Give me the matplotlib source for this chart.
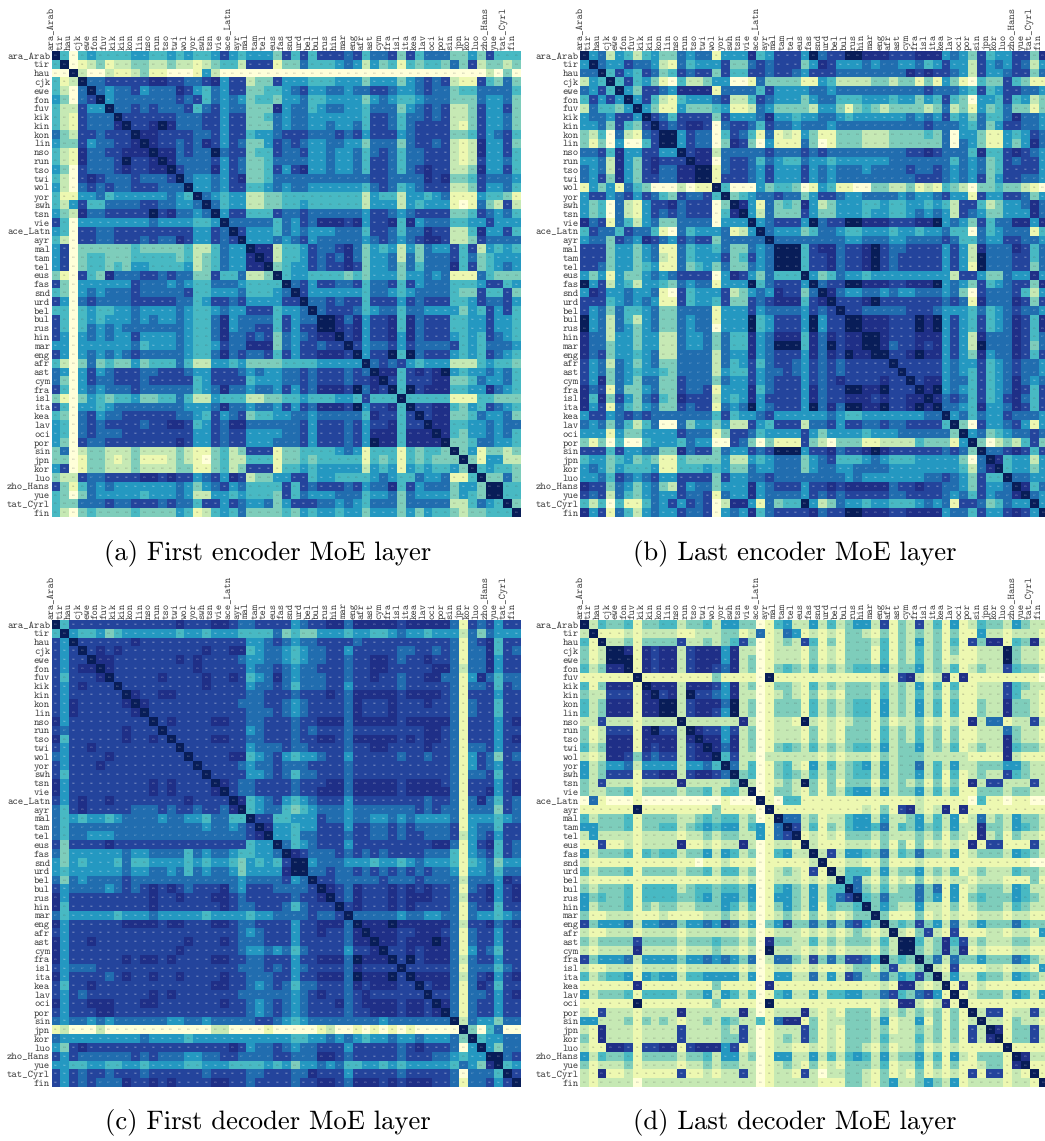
import matplotlib
matplotlib.use("Agg")
import matplotlib.pyplot as plt
import numpy as np

# languages, same order on both axes
languages = ["ara_Arab", "tir", "hau", "cjk", "ewe", "fon", "fuv", "kik", "kin", "kon",
             "lin", "nso", "run", "tso", "twi", "wol", "yor", "swh", "tsn", "vie",
             "ace_Latn", "ayr", "mal", "tam", "tel", "eus", "fas", "snd", "urd", "bel",
             "bul", "rus", "hin", "mar", "eng", "afr", "ast", "cym", "fra", "isl",
             "ita", "kea", "lav", "oci", "por", "sin", "jpn", "kor", "luo", "zho_Hans",
             "yue", "tat_Cyrl", "fin"]

# similarity, one digit per cell
first_encoder = [
    "9404544445 5445454457 5455537474 7776746673 7466633537 444",
    "4901231223 3223221234 4277713364 4456525341 4344363723 323",
    "0092002112 3110001520 0000000000 0000000000 0000000002 030",
    "4129667777 7887766785 7723375554 4455535553 5676721174 363",
    "4206965667 5666875465 7733445675 5665667765 5676634466 664",
    "5306795666 6666767465 6534435564 4555535654 4566633365 563",
    "4227559667 6766674675 6633385664 5665546663 5676722375 573",
    "4217666977 7777666775 7733465665 5555547764 6676722375 563",
    "4217666897 7898666775 7733365665 5655647764 6777721375 563",
    "6327767779 8877776675 7745567776 6676757775 6777733475 674",
    "5337566778 9877676875 7633576765 5665536663 6776721285 573",
    "4218667788 8988676696 7734476675 5655646764 6677721285 574",
    "4218666797 7898666675 7633466665 5655647764 6677721275 564",
    "5307666787 7889766685 7633475785 5655647764 6787722385 574",
    "4207876667 6667965565 7833466666 6666667766 6687833476 665",
    "5206767667 7766695565 7744565665 5555546764 5677722375 564",
    "4115564555 5556549654 5522334444 4444425442 5545611154 431",
    "4257446666 7766556964 5522334454 4444425552 5455510163 272",
    "5328667777 7978665695 7744476676 6666657765 6777733476 564",
    "7405555555 5655554459 6666646576 8887857784 8566644557 555",
    "5407766777 7777775576 9755546565 5566647764 6687722485 574",
    "4207766777 6766875576 7955565675 6666656765 6788722376 666",
    "5703333334 3333342246 5598824457 6678635452 5365574725 454",
    "5703443334 4444342346 5589824457 6768635562 6366674634 555",
    "5703443435 5444452346 5588934557 6778735563 6466684734 565",
    "3107438666 7767663374 4622394554 4443435553 5565611164 333",
    "7305555557 6665654466 6544449675 7766746674 7566644457 745",
    "4305656667 6666674455 5644456975 5555546654 5666643374 473",
    "7506766667 7777664577 6755557796 6767747775 7677744576 675",
    "4404544556 5555654456 5577745569 6777645664 6655553547 574",
    "7404545556 5655654468 5666647566 9986857784 8677744557 554",
    "7404656566 6666654468 5667747577 9987857784 8677744557 554",
    "7505656557 5555654468 6676736567 8897857785 8677754547 654",
    "5505555556 4555654457 6688836577 6779756675 7666674546 665",
    "7505656567 6666654468 6766747577 8887957794 9677754547 654",
    "4203634335 3444642255 4533334444 5555596767 5455522245 443",
    "6505756777 6677765577 7656556676 7776769884 7878954556 564",
    "6305766777 6777774577 7745556676 7776778974 7778833465 564",
    "7405656667 6666664568 6656657576 8887968794 9788844558 654",
    "3103543445 3344642254 4422334454 4455474449 4444411144 333",
    "7405545666 6666655568 6656657576 8887957784 9778843547 654",
    "4306756677 7777665475 6734455665 6666648774 7978833465 563",
    "5406767777 6778874576 8866666675 7776757784 7798844556 566",
    "5406766677 7777775576 7755556675 7776758884 8889843556 564",
    "5307667777 7777875576 7755566675 7776759884 8888933466 554",
    "3602332223 2222321134 2377713344 4456514441 4344393513 323",
    "3301332123 1112321034 2244413343 4444414341 4343339315 522",
    "5701332223 2222331134 2377714454 5555525451 5454453945 443",
    "3227667777 8878775675 8723355774 5544445654 4655611493 363",
    "7314656555 5555653567 5644447476 7776756684 7566635539 944",
    "4303655555 4555652255 4544437465 5566645563 6555535439 944",
    "4336667667 7767664775 7655635777 6656546663 6666622465 493",
    "4203433334 3333541245 4633334354 5545535553 5354432334 449",
]

last_encoder = [
    "9562542453 3656615558 4577759677 9988877788 8565374557 738",
    "5965576652 1645557336 7677735875 5565665564 5755275657 625",
    "6694754763 4767737447 7677657776 6666666878 7765275567 736",
    "2549474531 0422355001 6333311542 2223323313 1531043374 311",
    "6574953776 5888816666 4755556656 6666666667 6665474577 665",
    "4757595742 1455567224 7655535664 4455545535 4743055474 523",
    "2644359531 1533345112 6533332553 1343233332 3623153463 313",
    "5665775976 4777737555 6855455665 4555555656 5745364468 665",
    "5563743797 6788706776 4766566656 6666666667 6665463577 665",
    "3240621679 9576604764 1612153113 3322233334 3605531154 576",
    "3130500479 9576603873 0511163013 3322233333 3606531153 586",
    "6674855775 5978826666 6766676766 6666666778 7666484478 765",
    "5562853787 7798806776 4654465545 5555566666 6646563476 775",
    "6562853786 6889916776 5755575656 6656666766 7656563477 775",
    "6573853776 6889917776 5755575656 6666666677 7656573577 665",
    "1535164300 0201194000 5344301541 1003322312 1432033433 210",
    "5775675764 3766749345 6676635776 5566665655 6755175577 635",
    "5340621577 8677703985 1634385235 5544544554 5427742355 686",
    "5340621576 7677704895 2633375335 5545544565 6527653355 586",
    "8671642563 3666605559 5677759677 9988877788 9565374668 858",
    "4766476641 0645556125 9655534665 4455545545 5644064566 614",
    "5663765876 5767736666 6966666666 5566655666 6764465577 665",
    "7773553561 1645546336 5699947886 7789766777 7575286668 746",
    "7773553562 1645557347 5699947786 7789767777 7575296667 746",
    "7763553451 1634536336 5699947786 7789767777 7575196667 736",
    "5351533565 6777705875 3644495346 5545555555 5527753365 585",
    "9572542554 3656615559 4677759677 9988877888 9565374567 738",
    "5875565561 0745557235 6587736986 5566565566 6563076667 425",
    "7774565651 1745547337 6788847897 7789777777 7676186668 737",
    "7563644563 3666615557 5666657679 7766666777 6555464567 665",
    "9562642563 3656615559 4577759577 9988877798 9575474568 748",
    "9562653563 3656605559 4577759577 9988877798 9575474568 748",
    "8662553552 2655636448 5688848687 8899877788 8575286668 746",
    "8663553552 2655636448 5699948697 8899867787 8575296668 736",
    "8673554562 2666626558 5677758687 9889977898 8575385668 747",
    "7562653563 3666626457 4677657676 7777797777 7565574567 665",
    "7563654554 3666625447 5667657676 7777779777 7565474567 665",
    "7583653663 3766636557 5677757678 7777877978 8566474568 656",
    "8671633563 3766715558 4677758677 9988977798 9565474568 747",
    "8483753674 3877725458 5777758677 8887877889 8676474578 647",
    "8571643563 3767716569 5677759686 9988977898 9665485568 747",
    "5775676766 6666647455 6755555565 4455555556 6956465576 665",
    "6563642460 0635535227 5477726675 7766766777 7493075567 515",
    "5551533555 5766613776 4555575355 5545556666 6639563456 676",
    "3130400455 5465500763 0311173203 3311222243 3315930232 473",
    "7774755663 3867736557 6799957786 7789877777 7676396678 747",
    "4553453431 1433335225 4566635674 4456544455 5553069845 525",
    "5653544451 1444545336 5566635665 5666655555 5554268945 535",
    "5564765675 5777737556 6766666666 5655555556 6765374496 655",
    "8773653563 2756635558 5677757787 8888867787 7665375569 846",
    "7672643565 5766716558 5666657676 7777766777 7656475668 965",
    "4240411465 7576702885 1634495236 5545544456 5617763465 595",
    "8571642565 5766705658 4677778677 9988877888 8566475578 759",
]

first_decoder = [
    "9477777777 7777877788 7667777567 7886888887 8888861767 577",
    "4954453455 5555455455 5444463433 5554554456 5545552636 555",
    "7597777778 7777777777 7755676566 7777677777 7777761678 477",
    "7579787877 7777777877 8845665456 6775777776 6776761668 476",
    "7577988777 7777878777 7655665456 6776778876 7787761668 577",
    "7578898777 7777778777 7756676566 7776778877 7778862668 577",
    "7477789777 7787777877 8745686566 6776778776 7788661586 466",
    "7578777977 7777777877 7756676466 6775777776 7777761667 476",
    "7577777798 7788777777 7766777677 7876888887 8888761777 577",
    "7587777789 8777777777 7666776567 7776877787 7787761677 477",
    "7587777778 9777777777 7766676567 7776877787 7777761677 477",
    "8577777777 7978777788 7766777677 8886888887 8888861777 578",
    "7677777787 7797777777 7756777676 7776777777 7788761777 577",
    "8477777787 7879777788 7766777677 8876888887 8788761777 578",
    "7577877777 7777977777 7756667667 7776778877 7787761667 577",
    "6577778777 7777797777 8845675455 6775777776 7767761576 376",
    "7577787777 7777779777 7656676667 7776777777 7777761576 577",
    "7477777777 7777777977 7755676466 7776777777 7777761667 477",
    "8577777777 7878777798 7667777677 7886888887 8888761777 578",
    "8577777777 7878777789 7667777677 8886888887 8888861778 578",
    "7578778777 7777787777 9845675456 7775777777 7767761686 476",
    "6478777776 6676776776 8945664345 6665666666 6767661666 376",
    "6454554566 6656655466 4497744555 7665665565 6555561555 456",
    "6466666666 6666666566 5679855455 7775776676 7666671566 477",
    "6466555666 6666666666 6678955466 7776776676 7766672567 577",
    "7377778777 7777777777 7745596456 7775777777 7778861578 476",
    "6355555565 5666646566 5445569876 6676767677 7766641567 476",
    "5354555464 4555545455 4354547995 6665554554 5655541456 355",
    "5455555565 5665646566 5355558996 6766767676 7676651556 466",
    "6365666676 6666666666 6566667569 7766666766 6766662666 587",
    "7566665676 7878767778 6577766667 9876877787 8787761678 578",
    "8577777777 7877877788 7677777677 8976877787 8887762778 578",
    "8477777777 7877777778 7667776467 7797877787 8777761677 477",
    "6455555455 5655555455 5545566667 6679666665 6655661655 456",
    "8577777788 8878877788 7667777577 8886988898 8888862778 678",
    "7577777777 7777777777 7656777577 8776898887 7888761677 577",
    "8577877777 7777787778 7666777577 7776889887 8889861677 577",
    "8577777777 7777877777 7655656467 7775778977 8788861576 477",
    "8577777787 8878777788 7766777577 8886988897 9788862677 577",
    "7566677777 7777777777 7666767567 7776877779 7777761666 467",
    "8577776787 7877877778 7766677577 8886988897 9888862678 578",
    "7477877777 7777777788 7765676466 7776878887 7978861687 477",
    "7576777777 7878777777 7666666567 8776787777 7797761667 578",
    "8577888777 8877777778 7765676567 7786788887 8879861677 577",
    "7577788777 7777777777 7765676567 7776778887 8878961677 577",
    "6566565666 6665566566 6667765456 6666666566 6666692655 366",
    "1200020000 0000000022 0000100000 1200101010 1000009304 600",
    "6555555555 6555545555 5555555445 5656545565 5655563945 566",
    "5378777777 7777777777 8756676566 7775777776 7877760595 366",
    "7576666667 6766655667 7666677666 8876777776 7776654559 967",
    "5544554455 4555544555 4444545355 6564455454 5555546538 945",
    "7576776777 6777777677 7766777668 7775777776 7777760666 497",
    "7576766687 7878777788 7767777677 8876888787 8887761667 579",
]

last_decoder = [
    "9243341334 4233425533 0145225242 3552713272 4151243325 322",
    "2911121222 2112223312 6126512121 3321313232 3131152212 221",
    "4192231333 3722323473 0123274131 3332413252 3141738814 382",
    "3129981878 8278885822 0122213121 3331413242 3131122293 221",
    "3129991878 8278885823 0122213121 3331413242 3121122293 221",
    "4238891878 8278876823 0134324232 3443523352 3241232274 332",
    "1111119111 1111131111 0911111111 1111217821 2818111111 110",
    "4138881988 8288875823 0133214232 3332423252 4141122274 322",
    "3227771897 8297765822 0123213121 3331423242 3131122274 221",
    "4238881889 9278886923 0133314232 3441523252 4141132283 321",
    "4238881889 9278875923 0133314232 3441523252 4141132283 321",
    "2272221222 2922222282 0122192121 2331312231 2121826612 272",
    "3127771897 7298775723 0122213121 3331423242 3131122263 221",
    "3128881888 8289885823 0122213121 3331423242 3131122283 221",
    "4238881878 8278986823 0134324232 3442523352 3241232284 332",
    "2128873767 7278894722 0222222121 2221323332 2222111182 111",
    "5235562555 5255649624 0134215242 3452523362 4252233355 322",
    "5237771778 8278876934 0134324232 3442523352 4141232274 322",
    "3272221222 2822222392 0123293131 3331323231 3131827722 272",
    "3223341333 3233424429 0133213132 4552523352 4241133323 322",
    "0610001000 0000001000 9104411111 1111111121 1111041101 100",
    "1111119111 1111131111 0911111111 1121317821 2818111111 111",
    "4233341333 3223434423 0196623122 4552522352 4251262325 332",
    "5533341334 4234545524 5169724132 4554624353 4252283325 432",
    "2522221222 2122323322 5167912121 3332322232 3132182313 221",
    "1171121222 2811212282 0122192111 2221313131 2121817711 172",
    "5233341434 4233525423 0145229272 5543624363 3251233325 432",
    "2111111111 1110112111 0111112911 2211311121 1111111111 100",
    "4233341333 3233424423 0123217192 4442523352 3241232224 332",
    "2111111111 1111112212 0122212129 4621312131 2122122211 131",
    "3233341444 4234434435 0145325244 9632423363 6151233325 422",
    "5343341444 4334535535 0155325246 7943633363 5151343335 432",
    "5233341323 3223335424 0135325143 3493532252 2131233324 322",
    "3112221112 1111223212 0123213121 2339311131 2121122212 211",
    "7355562556 6355657635 0357336363 6753934373 5262353336 433",
    "2112221222 2122222212 0122212121 2321292137 2171112212 215",
    "3233337333 3233343323 0833224232 3332429942 3847232223 322",
    "2122228222 2122232212 0922212121 2221329932 3838121112 211",
    "7355562555 5355656536 0266327363 7764934393 6263353336 532",
    "2112221222 2122222212 0122112111 2331372239 2171112212 215",
    "4234451545 5244555525 0155226252 7633635473 9252243325 432",
    "1111118111 1111131111 0811111111 1111218821 2918121111 111",
    "5233341444 4233525424 0145225244 5533674367 5191233325 425",
    "1111119111 1111131111 0911111111 1111218821 2819111111 111",
    "2172221222 2822222282 0122282121 3331323232 3131927712 272",
    "5522231323 2122324322 4168813122 3332512251 3131292213 221",
    "2182221222 2722223272 0122273121 3332312232 3131729813 372",
    "3182221222 2722223372 0123273121 3332422242 3131728913 372",
    "2118871778 8178885712 0122112121 3321312231 2121111191 111",
    "5243341333 3233425523 0155225242 4542523352 4152133319 822",
    "3122231222 2122323322 0123213121 3332412241 3131123318 911",
    "2181121111 1711212272 0122172022 3321312131 2121717712 191",
    "2122220222 2222222222 0122222111 3321352235 3251222212 219",
]

captions = ["(a) First encoder MoE layer", "(b) Last encoder MoE layer",
            "(c) First decoder MoE layer", "(d) Last decoder MoE layer"]

W, H = 1045, 1141
n = len(languages)
tick_font = ["cmtt10", "DejaVu Sans Mono"]

# digit -> value on the colour scale
digit_values = np.array([0, 1, 2, 3, 3.9, 4.8, 5.7, 6.6, 7.2, 8]) / 8

plt.rcParams["text.hinting"] = "none"


def to_matrix(rows):
    out = []
    for r in rows:
        r = r.replace(" ", "")
        if len(r) != n:
            print("bad row", len(r), r)
        out.append([int(c) for c in r[:n].ljust(n, "5")])
    return digit_values[np.array(out)]


def draw_panel(rows, left, right, top, bottom, caption, cap_x, cap_y):
    ax = fig.add_axes([left / W, 1 - bottom / H, (right - left) / W, (bottom - top) / H])
    values = to_matrix(rows)
    ax.pcolormesh(np.arange(n + 1), np.arange(n + 1), values, cmap="YlGnBu",
                  vmin=0, vmax=1, linewidth=0, rasterized=True)
    ax.set_xlim(0, n)
    ax.set_ylim(n, 0)

    # very small cell annotations, they only show up as little dashes
    for i in range(n):
        for j in range(n):
            v = values[i, j]
            ax.text(j + 0.5, i + 0.5, "{:.1f}".format(v), fontsize=1.6,
                    ha="center", va="center",
                    color="white" if v >= 0.6 else "0.3", alpha=0.6)

    # x labels sit on the left edge of each cell, like in the original
    ax.xaxis.tick_top()
    ax.set_xticks(np.arange(n))
    ax.set_xticklabels(languages, rotation=90, family=tick_font, fontsize=7.4, color="0.25")
    ax.set_yticks(np.arange(n) + 0.5)
    ax.set_yticklabels(languages, family=tick_font, fontsize=7.4, color="0.25")
    ax.tick_params(length=0, pad=1)
    for s in ax.spines.values():
        s.set_visible(False)

    fig.text(cap_x / W, 1 - cap_y / H, caption, family=["cmr10", "DejaVu Serif"],
             fontsize=19.2, ha="center", va="center", color="black")


fig = plt.figure(figsize=(W / 100, H / 100), dpi=100)

draw_panel(first_encoder, 51.5, 521, 51, 517, captions[0], 268, 553)
draw_panel(last_encoder, 580, 1047.5, 51, 517, captions[1], 795, 553)
draw_panel(first_decoder, 51.5, 521, 620, 1087, captions[2], 268, 1122)
draw_panel(last_decoder, 580, 1047.5, 620, 1087, captions[3], 795, 1122)

plt.savefig("out.png", dpi=100)
